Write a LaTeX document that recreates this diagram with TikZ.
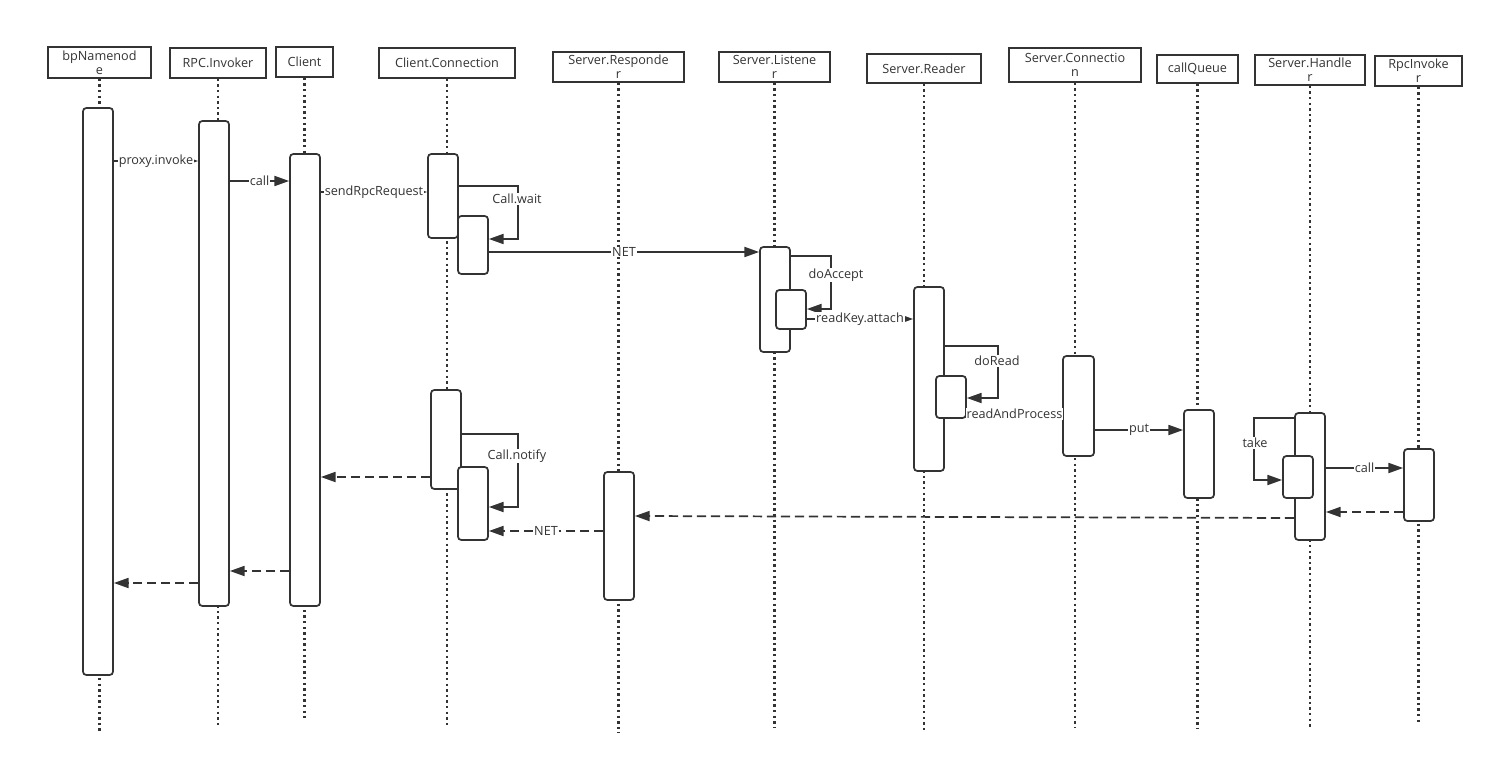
\documentclass[tikz,border=0pt]{standalone}
\usepackage{fontspec}
\setmainfont{Open Sans}
\usetikzlibrary{arrows.meta,positioning,fit,calc}
\definecolor{umlgray}{HTML}{333333}

\tikzset{
  head/.style={draw=umlgray, line width=1.3pt, inner sep=0pt, align=center,
    minimum height=22.5pt, text=umlgray, font=\fontsize{9.5}{10.5}\selectfont},
  life/.style={umlgray, line width=1.6pt, dash pattern=on 1.8pt off 2.4pt},
  actbar/.style={draw=umlgray, fill=white, line width=1.3pt, rounded corners=2.5pt, inner sep=0pt},
  msg/.style={umlgray, line width=1.3pt, -{Triangle[length=11pt,width=7.5pt]}},
  ret/.style={msg, dash pattern=on 7pt off 3.5pt},
  lbl/.style={fill=white, inner sep=0.6pt, text=umlgray, font=\fontsize{9.5}{11}\selectfont}
}

\begin{document}
\begin{tikzpicture}[x=0.75pt, y=-0.75pt]
  \useasboundingbox (0,0) rectangle (1494,766);
  % participants
  \node[head, minimum width=77.25pt, minimum height=23.25pt] (nn) at (99.5,62.5) {bpNamenod\\e};
  \node[head, minimum width=72pt] (rinv) at (218,63) {RPC.Invoker};
  \node[head, minimum width=42.75pt] (cli) at (304.5,62) {Client};
  \node[head, minimum width=102pt] (ccon) at (447,63) {Client.Connection};
  \node[head, minimum width=98.25pt] (sresp) at (618.5,67) {Server.Responde\\r};
  \node[head, minimum width=83.25pt] (slis) at (774.5,67) {Server.Listene\\r};
  \node[head, minimum width=85.5pt, minimum height=21.75pt] (srd) at (924,68.5) {Server.Reader};
  \node[head, minimum width=99pt, minimum height=25.5pt] (scon) at (1075,65) {Server.Connectio\\n};
  \node[head, minimum width=60.75pt, minimum height=21pt] (cq) at (1197.5,69) {callQueue};
  \node[head, minimum width=82.5pt] (shd) at (1310,70) {Server.Handle\\r};
  \node[head, minimum width=65.25pt] (rpci) at (1418.5,71) {RpcInvoke\\r};
  % lifelines
  \draw[life] (nn.south) -- (nn.south |- 0,733);
  \draw[life] (rinv.south) -- (rinv.south |- 0,725);
  \draw[life] (cli.south) -- (cli.south |- 0,718);
  \draw[life] (ccon.south) -- (ccon.south |- 0,728);
  \draw[life] (sresp.south) -- (sresp.south |- 0,733);
  \draw[life] (slis.south) -- (slis.south |- 0,727);
  \draw[life] (srd.south) -- (srd.south |- 0,733);
  \draw[life] (scon.south) -- (scon.south |- 0,727);
  \draw[life] (cq.south) -- (cq.south |- 0,728);
  \draw[life] (shd.south) -- (shd.south |- 0,727);
  \draw[life] (rpci.south) -- (rpci.south |- 0,722);
  % activations
  \node[actbar, fit={(83,108) (113,675)}] (nnA) {};
  \node[actbar, fit={(199,121) (229,606)}] (riA) {};
  \node[actbar, fit={(290,154) (320,606)}] (clA) {};
  \node[actbar, fit={(428,154) (458,238)}] (ccA) {};
  \node[actbar, fit={(458,216) (488,274)}] (ccB) {};
  \node[actbar, fit={(431,390) (461,489)}] (ccC) {};
  \node[actbar, fit={(458,467) (488,540)}] (ccD) {};
  \node[actbar, fit={(604,472) (634,600)}] (srA) {};
  \node[actbar, fit={(760,247) (790,352)}] (slA) {};
  \node[actbar, fit={(776,290) (806,329)}] (slB) {};
  \node[actbar, fit={(914,287) (944,471)}] (rdA) {};
  \node[actbar, fit={(936,376) (966,418)}] (rdB) {};
  \node[actbar, fit={(1063,356) (1094,456)}] (scA) {};
  \node[actbar, fit={(1184,410) (1214,498)}] (cqA) {};
  \node[actbar, fit={(1295,413) (1325,540)}] (hdA) {};
  \node[actbar, fit={(1283,456) (1313,498)}] (hdB) {};
  \node[actbar, fit={(1404,449) (1434,521)}] (rpA) {};
  % request path
  \draw[msg] (nnA.east |- 0,161) -- node[lbl] {proxy.invoke} (riA.west |- 0,161);
  \draw[msg] (riA.east |- 0,181) -- node[lbl] {call} (clA.west |- 0,181);
  \draw[msg] (clA.east |- 0,192) -- node[lbl] {sendRpcRequest} (ccA.west |- 0,192);
  \draw[msg] (ccA.east |- 0,186) -- ++(59,0) |- (ccB.east |- 0,239);
  \node[lbl] (waitlbl) at (517,199) {Call.wait};
  \draw[msg] (ccB.east |- 0,252) -- node[lbl] {NET} (slA.west |- 0,252);
  \draw[msg] (slA.east |- 0,256) -- ++(40,0) |- (slB.east |- 0,309);
  \node[lbl] (acclbl) at (836,275) {doAccept};
  \draw[msg] (slB.east |- 0,319) -- node[lbl] {readKey.attach} (rdA.west |- 0,319);
  \draw[msg] (rdA.east |- 0,346) -- ++(53,0) |- (rdB.east |- 0,398);
  \node[lbl] (readlbl) at (997,361) {doRead};
  \draw[msg] (rdB.east |- 0,414) -- node[lbl] {readAndProcess} (scA.west |- 0,414);
  \draw[msg] (scA.east |- 0,430) -- node[lbl] {put} (cqA.west |- 0,430);
  \draw[msg] (hdA.west |- 0,418) -- ++(-40,0) |- (hdB.west |- 0,480);
  \node[lbl] (takelbl) at (1255,443) {take};
  \draw[msg] (hdA.east |- 0,468) -- node[lbl] {call} (rpA.west |- 0,468);
  % response path
  \draw[ret] (rpA.west |- 0,512) -- (hdA.east |- 0,512);
  \draw[ret] (hdA.west |- 0,518) -- (srA.east |- 0,516);
  \draw[ret] (srA.west |- 0,531) -- node[lbl] {NET} (ccD.east |- 0,531);
  \draw[msg] (ccC.east |- 0,434) -- ++(56,0) |- (ccD.east |- 0,507);
  \node[lbl] (notelbl) at (517,456) {Call.notify};
  \draw[ret] (ccC.west |- 0,477) -- (clA.east |- 0,477);
  \draw[ret] (clA.west |- 0,571) -- (riA.east |- 0,571);
  \draw[ret] (riA.west |- 0,583) -- (nnA.east |- 0,583);
\end{tikzpicture}
\end{document}
